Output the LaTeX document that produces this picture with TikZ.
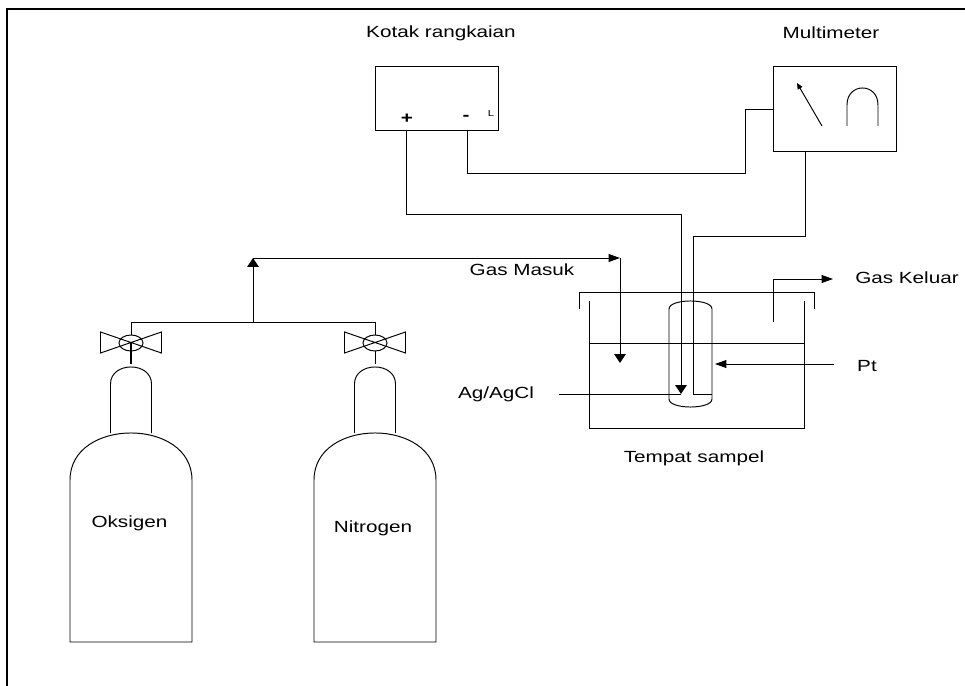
\documentclass[tikz,border=0pt]{standalone}
\usepackage{fontspec}
\setmainfont{Liberation Sans}
\usetikzlibrary{arrows.meta,shapes.geometric}

\newcommand*{\labelsize}{\fontsize{9.2}{11}\selectfont}

\begin{document}
\begin{tikzpicture}
[
	x=0.02cm,y=-0.02cm,
	line width=0.55pt,
	box/.style={draw,anchor=north west,inner sep=0pt},
	lbl/.style={inner sep=0pt,font=\labelsize,xscale=1.28,transform shape},
	valve/.style={draw,ellipse,inner sep=0pt,minimum width=0.48cm,minimum height=0.32cm},
	tipv/.style={-{Triangle[length=5pt,width=6.5pt]}},
	tiph/.style={-{Triangle[length=6.5pt,width=4.5pt]}}
]

	\useasboundingbox (0,0) rectangle (965,686);

	% frame
	\draw[line width=1.15pt] (7,686) -- (7,9) -- (965,9);

	% boxes
	\node[box,minimum width=2.46cm,minimum height=1.28cm] at (375,66) (kotak) {};
	\node[box,minimum width=2.46cm,minimum height=1.7cm] at (773,66) (meter) {};
	\node[lbl] at (441,33) (kotaklbl) {Kotak rangkaian};
	\node[lbl] at (831,33) (meterlbl) {Multimeter};
	\node[lbl,font=\bfseries\labelsize] at (407,119) (plus) {+};
	\node[lbl,font=\bfseries\labelsize] at (466,118) (minus) {-};
	\node[lbl,font=\fontsize{5}{6}\selectfont] at (491,113) (ell) {L};

	% meter face
	\coordinate (needle) at (822,126);
	\coordinate (needletop) at (797,83);
	\draw[-{Triangle[length=3.5pt,width=3pt]}] (needle) -- (needletop);
	\draw (847,126) -- (847,105) .. controls (847,82.3) and (878,82.3) .. (878,105) -- (878,126);

	% wires
	\coordinate (wirea) at (681,394);
	\coordinate (wireb) at (693,394);
	\draw[tipv] (kotak.south -| 406,0) -- (406,214) -- (681,214) -- (wirea);
	\draw (kotak.south -| 467,0) -- (467,173) -- (745,173) -- (745,109) -- (meter.west |- 0,109);
	\draw (meter.south -| 805,0) -- (805,236) -- (693,236) -- (wireb) -- (712,394);

	% beaker
	\draw (589,301) -- (589,428) -- (804,428) -- (804,301);
	\draw (589,343) -- (804,343);
	\draw (579,309) -- (579,292) -- (814,292) -- (814,309);
	\draw (669,309) .. controls (669,298.3) and (712,298.3) .. (712,309) -- (712,399) .. controls (712,409.7) and (669,409.7) .. (669,399) -- cycle;

	% labels and arrows round the beaker
	\node[lbl] at (522,270) (gasin) {Gas Masuk};
	\node[lbl] at (907,278) (gasout) {Gas Keluar};
	\node[lbl] at (867,366) (pt) {Pt};
	\node[lbl] at (496,394) (agcl) {Ag/AgCl};
	\node[lbl] at (694,458) (tempat) {Tempat sampel};
	\draw[tiph] (773,322) -- (773,279) -- (833,279);
	\draw[tiph] (834,364) -- (715,364);
	\draw (559,394) -- (wirea);

	% gas line
	\coordinate (tee) at (253,322);
	\coordinate (top) at (253,258);
	\coordinate (inlet) at (620,258);
	\draw[tipv] (tee) -- (top);
	\draw[tiph] (top) -- (inlet);
	\draw[tipv] (inlet) -- (620,363);

	% cylinders
	\foreach \cx/\name/\lx/\ly in {131/Oksigen/129.5/523,375/Nitrogen/373/528}
	{
		\begin{scope}[shift={(\cx,0)}]
			\node[valve] at (0,343) (valve\name) {};
			\draw (-30.5,332) -- (30.5,353) -- (30.5,332) -- (-30.5,353) -- cycle;
			\draw (0,322) -- (valve\name.north);
			\draw (valve\name.south) -- (0,364);
			\draw (-20.5,433) -- (-20.5,384) .. controls (-20.5,361.3) and (20.5,361.3) .. (20.5,384) -- (20.5,433);
			\draw (-61,642) -- (-61,480) .. controls (-61,417.3) and (61,417.3) .. (61,480) -- (61,642) -- cycle;
		\end{scope}
		\node[lbl] at (\lx,\ly) (lbl\name) {\name};
	}
	\draw (131,322) -- (375,322);
	\draw[line width=1pt] (valveOksigen.center) -- (131,364);

\end{tikzpicture}
\end{document}
